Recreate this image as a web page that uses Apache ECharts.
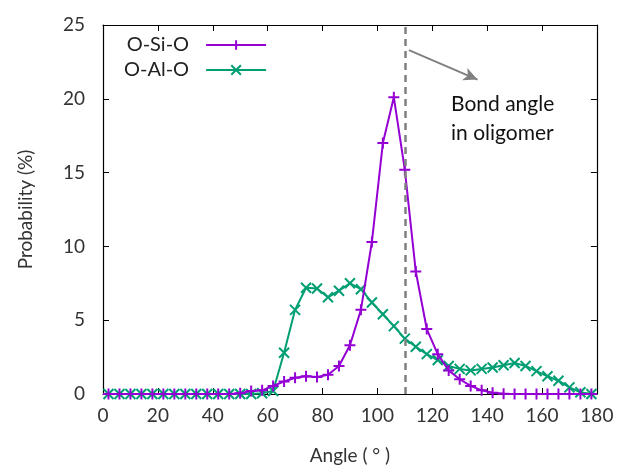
<!DOCTYPE html>
<html><head><meta charset="utf-8">
<script src="https://cdn.jsdelivr.net/npm/echarts@6/dist/echarts.min.js"></script>
<style>html,body{margin:0;padding:0;background:#fff}#c{width:619px;height:470px}</style>
</head><body><div id="c"></div>
<script>
const angles = [2,6,10,14,18,22,26,30,34,38,42,46,50,54,58,62,66,70,74,78,82,86,90,94,98,102,106,110,114,118,122,126,130,134,138,142,146,150,154,158,162,166,170,174,178];
const siValues = [0,0,0,0,0,0,0,0,0,0,0,0,0.05,0.2,0.25,0.55,0.85,1.1,1.2,1.15,1.3,1.9,3.3,5.7,10.3,17.0,20.1,15.2,8.3,4.4,2.7,1.6,1.0,0.55,0.25,0.08,0.02,0,0,0,0,0,0,0,0];
const alValues = [0,0,0,0,0,0,0,0,0,0,0,0,0,0,0.05,0.2,2.8,5.7,7.2,7.15,6.55,7.0,7.5,7.1,6.2,5.4,4.6,3.75,3.2,2.7,2.3,1.9,1.7,1.6,1.7,1.8,1.95,2.1,1.9,1.55,1.2,0.9,0.45,0.12,0];
const xTicks = [0,20,40,60,80,100,120,140,160,180];
const yTicks = [0,5,10,15,20,25];
const seriesNames = ['O-Si-O','O-Al-O'];
const oligomerAngle = 110;

const FONT = 'Lato';
const chart = echarts.init(document.getElementById('c'));
const plus = 'path://M0,5L10,5M5,0L5,10';
const cross = 'path://M0,0L10,10M10,0L0,10';
const pair = (xs, ys) => xs.map((x,i)=>[x, ys[i]]);
const axisCommon = () => ({
  axisLine:{show:true,onZero:false,lineStyle:{color:'#000',width:1.2}},
  axisTick:{show:true,inside:true,length:6,lineStyle:{color:'#000',width:1}},
  splitLine:{show:false}
});
const hiddenLabel = {show:true,color:'rgba(0,0,0,0)',fontSize:10};
chart.setOption({
  animation:false,
  grid:{left:103,right:21,top:25,bottom:75},
  legend:{
    left:119, top:30, orient:'vertical', align:'right', itemGap:5,
    itemWidth:60, itemHeight:12,
    textStyle:{fontFamily:FONT,fontSize:20,color:'#222',padding:[0,12,0,0]},
    data:seriesNames
  },
  xAxis:[
    Object.assign({type:'value',min:0,max:180,interval:20,position:'bottom',
      name:'Angle ( ° )',nameLocation:'middle',nameGap:52,
      nameTextStyle:{fontFamily:FONT,fontSize:19,color:'#333'},
      axisLabel:{fontFamily:FONT,fontSize:19,color:'#333',margin:12}},axisCommon()),
    Object.assign({type:'value',min:0,max:180,interval:20,position:'top',
      axisLabel:hiddenLabel},axisCommon())
  ],
  yAxis:[
    Object.assign({type:'value',min:0,max:25,interval:5,position:'left',
      name:'Probability (%)',nameLocation:'middle',nameGap:68,
      nameTextStyle:{fontFamily:FONT,fontSize:19,color:'#333'},
      axisLabel:{fontFamily:FONT,fontSize:19,color:'#333',margin:18}},axisCommon()),
    Object.assign({type:'value',min:0,max:25,interval:5,position:'right',
      axisLabel:hiddenLabel},axisCommon())
  ],
  series:[
    {name:seriesNames[0],type:'line',data:pair(angles,siValues),
      symbol:plus,symbolSize:11,showAllSymbol:true,
      lineStyle:{color:'#9400D3',width:2},
      itemStyle:{color:'#9400D3',borderColor:'#9400D3',borderWidth:2},
      z:3,
      markLine:{silent:true,symbol:['none','none'],label:{show:false},
        lineStyle:{color:'#808080',type:[7,5],width:2.5},
        data:[{xAxis:oligomerAngle}]}
    },
    {name:seriesNames[1],type:'line',data:pair(angles,alValues),
      symbol:cross,symbolSize:10,showAllSymbol:true,
      lineStyle:{color:'#009E73',width:2},
      itemStyle:{color:'#009E73',borderColor:'#009E73',borderWidth:2},
      z:2,
      markLine:{silent:true,symbol:['none','arrow'],symbolSize:[10,14],label:{show:false},
        lineStyle:{color:'#808080',type:'solid',width:2},
        data:[[{coord:[111.5,23.3]},{coord:[136.5,21.3]}]]}
    },
    {name:'mirror',type:'line',xAxisIndex:1,yAxisIndex:1,data:[[0,0]],silent:true,symbol:'none',lineStyle:{opacity:0}}
  ],
  graphic:[
    {type:'text',left:451,top:90,style:{text:'Bond angle\nin oligomer',fontFamily:FONT,fontSize:21,lineHeight:29,fill:'#111'}}
  ]
});
</script></body></html>
